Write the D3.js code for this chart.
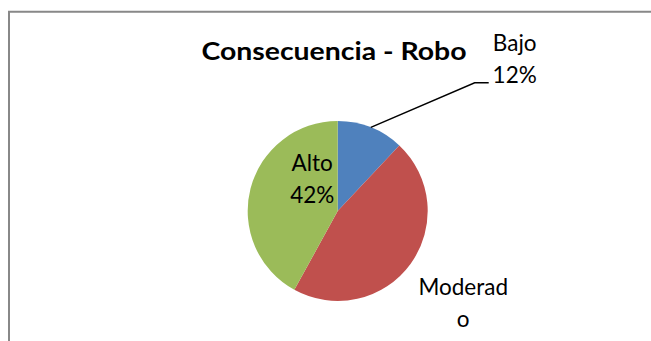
<!DOCTYPE html>
<html>
<head>
<meta charset="utf-8">
<script src="https://cdn.jsdelivr.net/npm/d3@7"></script>
<style>
  html, body { margin: 0; padding: 0; background: #ffffff; overflow: hidden; width: 651px; height: 341px; }
  svg { display: block; }
</style>
</head>
<body>
<svg id="chart" width="651" height="341"></svg>
<script>
// Pie chart: Consecuencia - Robo
const title = "Consecuencia - Robo";
const categories = ["Bajo", "Moderado", "Alto"];
const values = [12, 46, 42];
const colors = ["#4F81BD", "#C0504D", "#9BBB59"];
// Data-label lines as they wrap inside the chart area
const labelLines = [["Bajo", "12%"], ["Moderad", "o"], ["Alto", "42%"]];

const svg = d3.select("#chart");
const font = "Lato, 'Open Sans', 'Liberation Sans', sans-serif";

// chart-area frame (continues past the right and bottom edges)
svg.append("path")
  .attr("d", "M9,400 L9,11.75 L700,11.75")
  .attr("fill", "none")
  .attr("stroke", "#888888")
  .attr("stroke-width", 2);

// title
svg.append("text")
  .attr("x", 201.5)
  .attr("y", 60)
  .attr("font-family", font)
  .attr("font-weight", "bold")
  .attr("font-size", 25)
  .attr("textLength", 265)
  .attr("lengthAdjust", "spacingAndGlyphs")
  .attr("fill", "#000")
  .text(title);

// pie
const cx = 337.7, cy = 211, r = 90;
const data = categories.map((c, i) => ({ name: c, value: values[i], color: colors[i], lines: labelLines[i] }));
const pie = d3.pie().value(d => d.value).sort(null).startAngle(0).endAngle(2 * Math.PI);
const arcs = pie(data);
const arc = d3.arc().innerRadius(0).outerRadius(r);

const g = svg.append("g").attr("transform", `translate(${cx},${cy})`);
g.selectAll("path.slice")
  .data(arcs)
  .join("path")
  .attr("class", "slice")
  .attr("d", arc)
  .attr("fill", d => d.data.color);

// label placement relative to the pie centre
const labelPos = {
  "Bajo":     { dx: 177,  dy: -160 },
  "Moderado": { dx: 125.5, dy: 84 },
  "Alto":     { dx: -25.5, dy: -40 }
};
const lineGap = 32.3;

const labels = g.selectAll("text.lbl")
  .data(arcs)
  .join("text")
  .attr("class", "lbl")
  .attr("font-family", font)
  .attr("font-size", 22.5)
  .attr("fill", "#000")
  .attr("text-anchor", "middle");
labels.each(function(d) {
  const p = labelPos[d.data.name];
  const t = d3.select(this);
  d.data.lines.forEach((ln, i) => {
    t.append("tspan")
      .attr("x", p.dx)
      .attr("y", p.dy + i * lineGap)
      .text(ln);
  });
});

// leader line for the small slice
const bajo = arcs[0];
const mid = (bajo.startAngle + bajo.endAngle) / 2;
const edge = [Math.sin(mid) * r, -Math.cos(mid) * r];
const p = labelPos["Bajo"];
const elbow = [p.dx - 40, p.dy + lineGap - 0.5];
const end = [p.dx - 26, p.dy + lineGap - 0.5];
g.append("path")
  .attr("d", d3.line()([edge, elbow, end]))
  .attr("fill", "none")
  .attr("stroke", "#000")
  .attr("stroke-width", 1.5);
</script>
</body>
</html>
